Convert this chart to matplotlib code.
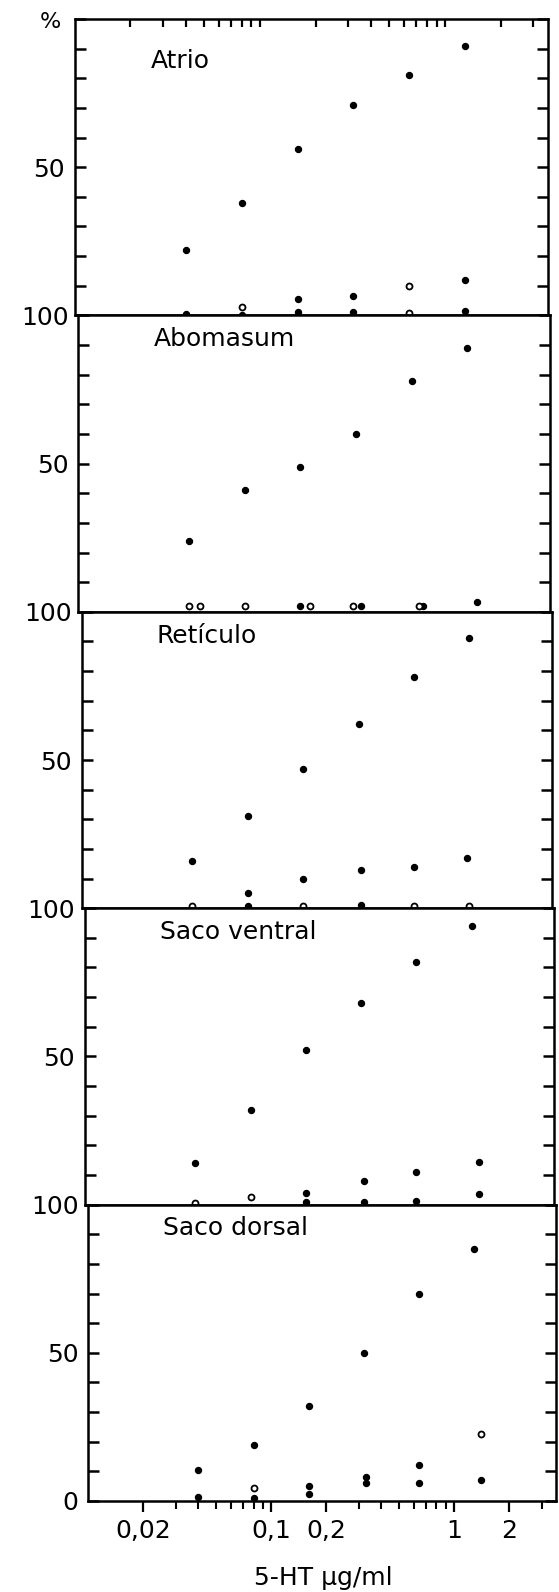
import matplotlib
matplotlib.use('Agg')
import matplotlib.pyplot as plt

# ---------------- data ----------------
panel_names = ["Atrio", "Abomasum", "Retículo", "Saco ventral", "Saco dorsal"]
doses = [0.04, 0.08, 0.16, 0.32, 0.64, 1.28]          # 5-HT µg/ml

# rising (control) curves, % response
atrio_ctrl = [22, 38, 56, 71, 81, 91]
abomasum_ctrl = [24, 41, 49, 60, 78, 89]
reticulo_ctrl = [16, 31, 47, 62, 78, 91]
ventral_ctrl = [14, 32, 52, 68, 82, 94]
dorsal_ctrl = [10.5, 19, 32, 50, 70, 85]

# other solid points (dose, %)
atrio_solid_x = [0.16, 0.32, 1.28, 0.04, 0.08, 0.16, 0.32, 1.28]
atrio_solid_y = [5.5, 6.5, 12, 0.5, 0.3, 1, 1, 1.5]
abomasum_solid_x = [0.16, 0.34, 0.74, 1.45]
abomasum_solid_y = [1.8, 1.8, 1.8, 3.2]
reticulo_solid_x = [0.08, 0.16, 0.33, 0.64, 1.24, 0.08, 0.33]
reticulo_solid_y = [5, 10, 13, 14, 17, 0.8, 1]
ventral_solid_x = [0.33, 0.64, 1.4, 0.16, 1.4, 0.16, 0.33, 0.64]
ventral_solid_y = [8, 11, 14.5, 4, 3.5, 1, 1, 1.3]
dorsal_solid_x = [0.16, 0.33, 0.64, 0.04, 0.08, 0.16, 0.33, 0.64, 1.4]
dorsal_solid_y = [5, 8, 12, 1.5, 1, 2.5, 6, 6, 7]

# open-circle points (dose, %)
atrio_open_x = [0.08, 0.64, 0.64]
atrio_open_y = [3, 10, 0.8]
abomasum_open_x = [0.04, 0.046, 0.08, 0.18, 0.31, 0.70]
abomasum_open_y = [1.8, 1.8, 1.8, 1.8, 1.8, 1.8]
reticulo_open_x = [0.04, 0.16, 0.64, 1.28]
reticulo_open_y = [0.8, 0.8, 0.8, 0.8]
ventral_open_x = [0.04, 0.08]
ventral_open_y = [0.7, 2.5]
dorsal_open_x = [0.08, 1.4]
dorsal_open_y = [4.5, 22.5]

ctrl_all = [atrio_ctrl, abomasum_ctrl, reticulo_ctrl, ventral_ctrl, dorsal_ctrl]
solid_all = [(atrio_solid_x, atrio_solid_y), (abomasum_solid_x, abomasum_solid_y),
             (reticulo_solid_x, reticulo_solid_y), (ventral_solid_x, ventral_solid_y),
             (dorsal_solid_x, dorsal_solid_y)]
open_all = [(atrio_open_x, atrio_open_y), (abomasum_open_x, abomasum_open_y),
            (reticulo_open_x, reticulo_open_y), (ventral_open_x, ventral_open_y),
            (dorsal_open_x, dorsal_open_y)]

x_major = [0.02, 0.1, 0.2, 1, 2]
x_major_labels = ["0,02", "0,1", "0,2", "1", "2"]
x_minor = [0.03, 0.04, 0.05, 0.06, 0.07, 0.08, 0.09,
           0.3, 0.4, 0.5, 0.6, 0.7, 0.8, 0.9, 3]
y_ticks = list(range(0, 101, 10))

# ---------------- figure ----------------
plt.rcParams['font.family'] = ['DejaVu Sans']
W, H = 559, 1592
fig = plt.figure(figsize=(W / 100, H / 100), dpi=100)

top_px, bot_px = 19, 1501
n = len(panel_names)
ph = (bot_px - top_px) / n
axes = []
for i in range(n):
    y0 = top_px + i * ph
    t = (y0 + ph / 2 - top_px) / (bot_px - top_px)   # slight shear of the scanned original
    left = 73 + 17 * t
    right = 547 + 10 * t
    ax = fig.add_axes([left / W, 1 - (y0 + ph) / H, (right - left) / W, ph / H])
    axes.append(ax)

for i, ax in enumerate(axes):
    ax.set_xscale('log')
    ax.set_xlim(0.01, 3.6)
    ax.set_ylim(0, 100)
    for sp in ax.spines.values():
        sp.set_linewidth(1.8)

    ax.plot(doses, ctrl_all[i], 'o', color='black', ms=4.3, ls='none', clip_on=False)
    sx, sy = solid_all[i]
    ax.plot(sx, sy, 'o', color='black', ms=4.3, ls='none', clip_on=False)
    ox, oy = open_all[i]
    ax.plot(ox, oy, 'o', mfc='white', mec='black', mew=1.3, ms=4.3, ls='none', clip_on=False)

    ax.set_yticks(y_ticks)
    labels = []
    for tk in y_ticks:
        if tk == 50:
            labels.append("50")
        elif tk == 100 and i > 0:
            labels.append("100")
        elif tk == 0 and i == n - 1:
            labels.append("0")
        else:
            labels.append("")
    ax.set_yticklabels(labels)
    ax.tick_params(axis='y', direction='in', length=8, width=1.8,
                   left=True, right=True, labelsize=18, pad=7)

    ax.set_xticks(x_major)
    ax.set_xticks(x_minor, minor=True)
    if i == n - 1:
        ax.set_xticklabels(x_major_labels)
        ax.set_xticklabels([], minor=True)
        ax.tick_params(axis='x', which='major', direction='out', length=8, width=1.6,
                       labelsize=18, pad=5, top=False, bottom=True)
        ax.tick_params(axis='x', which='minor', direction='out', length=6, width=1.5,
                       top=False, bottom=True)
    elif i == 0:
        ax.tick_params(axis='x', which='both', direction='in', length=6, width=1.6,
                       top=True, bottom=False, labelbottom=False, labeltop=False)
    else:
        ax.tick_params(axis='x', which='both', top=False, bottom=False,
                       labelbottom=False)

    ty = 0.858 if i == 0 else 0.92
    ax.text(0.16, ty, panel_names[i], transform=ax.transAxes, fontsize=18,
            ha='left', va='center')

fig.text(50 / W, 1 - 22 / H, "%", fontsize=16, ha='center', va='center')
fig.text(323 / W, 1 - 1578 / H, "5-HT μg/ml", fontsize=18, ha='center', va='center')

fig.savefig("out.png", dpi=100)
